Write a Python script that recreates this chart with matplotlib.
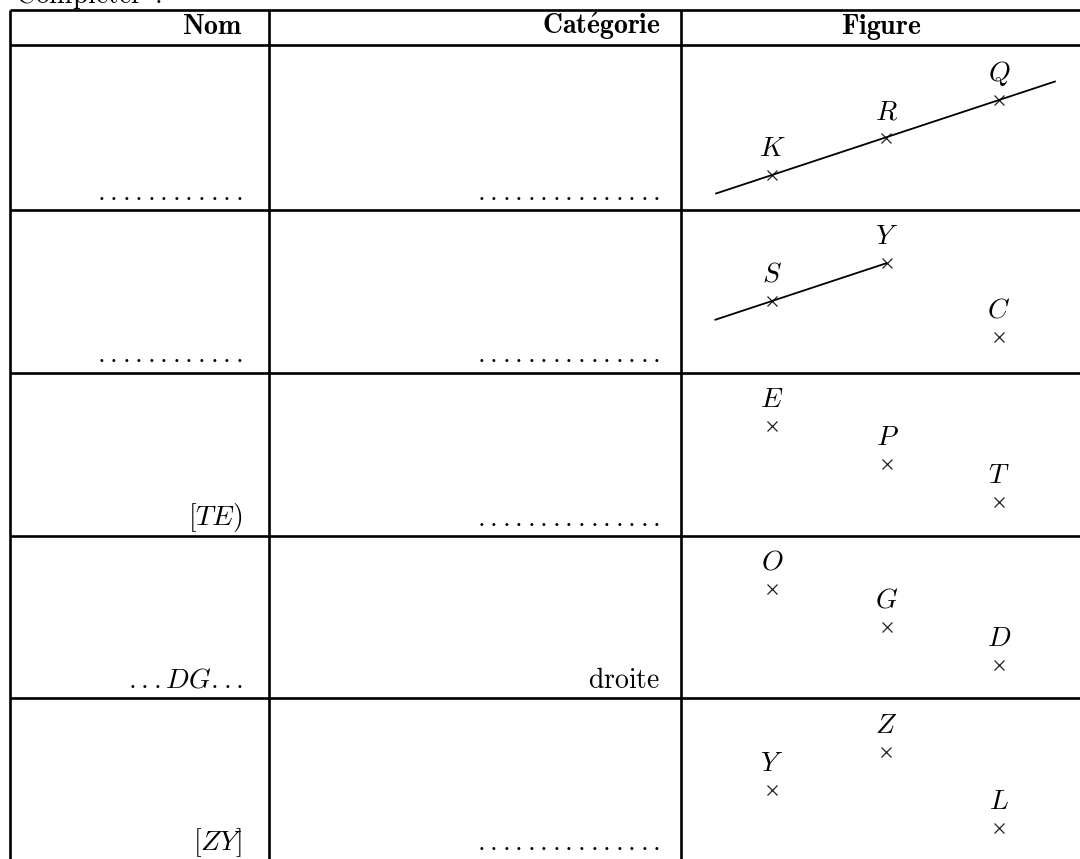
import matplotlib.pyplot as plt

plt.rcParams["mathtext.fontset"] = "cm"

# table frame, in pixels of the page (y goes down)
col_edges = [9.5, 269, 680.5, 1082]
header_top = 10
header_bottom = 45
row_bottoms = [210, 373, 536, 698, 861]

headers = [r"$\mathbf{Nom}$", r"$\mathbf{Cat\acute{e}gorie}$", r"$\mathbf{Figure}$"]

blank_name = r"$\mathbf{" + "." * 12 + "}$"
blank_cat = "$" + "." * 15 + "$"

names = [blank_name, blank_name, r"$[TE)$", r"$...DG...$", r"$[ZY]$"]
categories = [blank_cat, blank_cat, blank_cat, r"$\mathrm{droite}$", blank_cat]

# points of each figure: label, x, depth below the top of its row
fig_labels = [["K", "R", "Q"], ["S", "Y", "C"], ["E", "P", "T"], ["O", "G", "D"], ["Y", "Z", "L"]]
fig_x = [[772, 886, 999], [772, 887, 999], [772, 887, 999], [772, 887, 999], [772, 886, 999]]
fig_dy = [[130, 93, 55], [91, 53, 127], [53, 91, 129], [53, 91, 129], [92, 54, 130]]

# lines in the figures: row, from, to, how far it goes past each end
fig_lines = [(0, "K", "Q", 0.25, 0.25), (1, "Y", "S", 0.0, 0.5)]

fontsize = 20
rule_lw = 1.9
text_pad = [26, 20]
baseline_gap = 10.5

fig = plt.figure(figsize=(10.8, 8.59), dpi=100)
ax = fig.add_axes([0, 0, 1, 1])
ax.set_xlim(0, 1080)
ax.set_ylim(859, 0)
ax.axis("off")

#### table rules ####
h_rules = [header_top, header_bottom] + row_bottoms[:-1]
ax.hlines(h_rules, col_edges[0], col_edges[-1], colors="k", linewidth=rule_lw)
ax.vlines(col_edges[:-1], header_top, row_bottoms[-1], colors="k", linewidth=rule_lw)

ax.text(15, 4.5, r"$\mathrm{Compl\acute{e}ter\ :}$", fontsize=fontsize, va="baseline", ha="left")

# header
header_base = header_bottom - baseline_gap
ax.text(col_edges[1] - text_pad[0], header_base, headers[0], fontsize=fontsize, ha="right", va="baseline")
ax.text(col_edges[2] - text_pad[1], header_base, headers[1], fontsize=fontsize, ha="right", va="baseline")
ax.text((col_edges[2] + col_edges[3]) / 2, header_base, headers[2], fontsize=fontsize, ha="center", va="baseline")

row_tops = [header_bottom] + row_bottoms[:-1]

for i in range(len(names)):
    base = row_bottoms[i] - baseline_gap
    ax.text(col_edges[1] - text_pad[0], base, names[i], fontsize=fontsize, ha="right", va="baseline")
    ax.text(col_edges[2] - text_pad[1], base, categories[i], fontsize=fontsize, ha="right", va="baseline")

    # points of the figure
    pts = {}
    for lab, x, dy in zip(fig_labels[i], fig_x[i], fig_dy[i]):
        y = row_tops[i] + dy
        pts[lab] = (x, y)
        ax.plot(x, y, marker="x", markersize=7, markeredgewidth=0.9, color="#222222")
        ax.text(x, y - 19, "$" + lab + "$", fontsize=fontsize, ha="center", va="baseline")

    for (row, a, b, ea, eb) in fig_lines:
        if row != i:
            continue
        (xa, ya), (xb, yb) = pts[a], pts[b]
        dx, dy = xb - xa, yb - ya
        ax.plot([xa - ea * dx, xb + eb * dx], [ya - ea * dy, yb + eb * dy], color="k", linewidth=1.3,
                solid_capstyle="butt")

plt.savefig("out.png", dpi=100)
